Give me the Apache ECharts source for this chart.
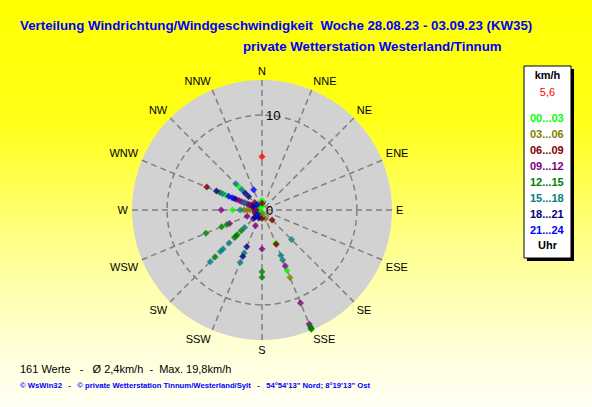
<!DOCTYPE html>
<html>
<head>
<meta charset="utf-8">
<script src="https://cdn.jsdelivr.net/npm/echarts@6/dist/echarts.min.js"></script>
<style>
  html, body { margin: 0; padding: 0; }
  #chart { width: 592px; height: 407px; }
</style>
</head>
<body>
<div id="chart"></div>
<script>
// ---------- data ----------
const directions = ['N','NNE','NE','ENE','E','ESE','SE','SSE','S','SSW','SW','WSW','W','WNW','NW','NNW'];
const speedTicks = [0, 10];
const bands = ['00...03','03...06','06...09','09...12','12...15','15...18','18...21','21...24'];
const bandColors = ['#00ff00','#808000','#800000','#800080','#008000','#008080','#000080','#0000ff'];

// [direction, km/h]
const h00_03 = [['WNW',4.2],['NW',3.4],['N',1.0],['W',3.1],['SSE',6.9],['SSE',3.8],['N',0.4],['WNW',0.8],['NNW',0.6],['W',0.3],['S',0.2]];
const h03_06 = [['W',1.9],['W',1.6],['W',1.3],['SSE',1.0],['SSE',7.7],['W',0.9],['WNW',1.1],['S',0.4],['SSW',0.6]];
const h06_09 = [['WNW',6.3],['SSE',3.9],['SE',1.5],['S',0.9],['NW',1.1],['WNW',1.4],['N',0.7],['W',0.6],['WSW',0.8]];
const h09_12 = [['W',4.3],['WSW',3.7],['SSW',1.8],['S',4.1],['SSE',6.4],['SSE',10.6],['SSE',13.0],['WSW',1.7],['WNW',2.9],['WNW',2.6],['WNW',2.3],['WNW',2.0],['WNW',1.7],['WNW',1.5],['WNW',1.2],['SW',1.3],['W',0.8]];
const h12_15 = [['WNW',4.8],['WSW',4.0],['WSW',4.6],['WSW',6.4],['SW',3.1],['SW',3.7],['SW',3.9],['SW',4.1],['SW',7.0],['S',6.5],['S',7.1],['SSE',13.3],['SSE',13.5],['SSE',13.6],['NW',0.7],['SW',0.6]];
const h15_18 = [['NW',3.9],['NW',3.0],['W',2.3],['SW',2.6],['SW',4.9],['SW',5.8],['SW',6.2],['SW',7.7],['SSW',4.9],['SSW',6.0],['SE',4.4],['SSE',5.2],['SSE',5.7],['WNW',4.5],['WNW',2.0]];
const h18_21 = [['WNW',5.2],['WNW',3.15],['NW',2.5],['NW',2.0],['SSW',4.2],['SSW',5.3],['SW',1.1],['SSW',0.9],['WNW',1.0]];
const h21_24 = [['NNW',2.3],['WNW',3.8],['WNW',3.4],['NW',0.8],['SW',0.7]];
const bandData = [h00_03, h03_06, h06_09, h09_12, h12_15, h15_18, h18_21, h21_24];

const currentDir = 'N';
const currentSpeed = 5.6;

const titleText = 'Verteilung Windrichtung/Windgeschwindigkeit  Woche 28.08.23 - 03.09.23 (KW35)';
const subTitleText = 'private Wetterstation Westerland/Tinnum';
const statsText = '161 Werte   -   Ø 2,4km/h  -  Max. 19,8km/h';
const creditText = '© WsWin32   -   © private Wetterstation Tinnum/Westerland/Sylt   -   54°54\'13" Nord; 8°19\'13" Ost';
const unitText = 'km/h';
const hourText = 'Uhr';

// ---------- chart ----------
const FONT = '"Liberation Sans", Arial, sans-serif';
const bearing = d => directions.indexOf(d) * 22.5;
const toPolar = arr => arr.map(p => [p[1], bearing(p[0])]);

const chart = echarts.init(document.getElementById('chart'), null, { renderer: 'svg' });

const series = bands.map((b, i) => ({
  name: b,
  type: 'scatter',
  coordinateSystem: 'polar',
  polarIndex: 1,
  symbol: 'diamond',
  symbolSize: 7,
  itemStyle: { color: bandColors[i] },
  data: toPolar(bandData[i]),
  z: 5
}));
series.push({
  name: 'aktuell',
  type: 'scatter',
  coordinateSystem: 'polar',
  polarIndex: 1,
  symbol: 'diamond',
  symbolSize: 7,
  itemStyle: { color: '#ff0000' },
  data: toPolar([[currentDir, currentSpeed]]),
  z: 6
});

const POLAR = { center: [262, 210], radius: 130 };
const R_MAX = 13.7;

const option = {
  backgroundColor: {
    type: 'linear', x: 0, y: 0, x2: 0, y2: 1,
    colorStops: [
      { offset: 0, color: '#ffff00' },
      { offset: 0.3, color: '#ffff18' },
      { offset: 0.6, color: '#ffff8c' },
      { offset: 0.85, color: '#ffffd6' },
      { offset: 1, color: '#fffff4' }
    ]
  },
  animation: false,
  textStyle: { fontFamily: FONT },
  title: [
    { text: titleText, left: 20, top: 19, padding: 0,
      textStyle: { color: '#0000ff', fontSize: 13.3, fontWeight: 'bold', fontFamily: FONT } },
    { text: subTitleText, left: 243, top: 40, padding: 0,
      textStyle: { color: '#0000ff', fontSize: 13.3, fontWeight: 'bold', fontFamily: FONT } },
    { text: statsText, left: 20, top: 363, padding: 0,
      textStyle: { color: '#000000', fontSize: 11, fontWeight: 'normal', fontFamily: FONT } },
    { text: creditText, left: 20, top: 381, padding: 0,
      textStyle: { color: '#0000ff', fontSize: 7.7, fontWeight: 'bold', fontFamily: FONT } }
  ],
  polar: [POLAR, POLAR],
  angleAxis: [
    {
      polarIndex: 0, type: 'value', min: 0, max: 360, interval: 22.5,
      startAngle: 90, clockwise: true,
      axisLine: { show: false }, axisTick: { show: false },
      axisLabel: { show: false }, splitLine: { show: false },
      z: 0
    },
    {
      polarIndex: 1, type: 'value', min: 0, max: 360, interval: 22.5,
      startAngle: 90, clockwise: true,
      axisLine: { show: false },
      axisTick: { show: false },
      splitLine: { show: true, lineStyle: { color: '#808080', type: [6, 4], width: 1.5 } },
      axisLabel: {
        margin: 4,
        color: '#000', fontSize: 11, fontFamily: FONT,
        formatter: v => (v >= 360 ? '' : directions[Math.round(v / 22.5) % 16])
      },
      z: 3
    }
  ],
  radiusAxis: [
    {
      polarIndex: 0, min: 0, max: R_MAX, interval: 10,
      axisLine: { show: false }, axisTick: { show: false },
      axisLabel: { show: false }, splitLine: { show: false },
      splitArea: { show: true, areaStyle: { color: ['#d2d2d2', '#d2d2d2'] } },
      z: 0
    },
    {
      polarIndex: 1, min: 0, max: R_MAX, interval: 10,
      axisLine: { show: false },
      axisTick: { show: false },
      splitLine: { show: true, lineStyle: { color: ['#808080', '#808080', 'rgba(0,0,0,0)'], type: [6, 4], width: 1.5 } },
      splitArea: { show: false },
      axisLabel: {
        margin: -4, align: 'left', showMinLabel: true,
        color: '#000', fontSize: 13, fontFamily: FONT,
        formatter: v => (speedTicks.indexOf(v) >= 0 ? String(v) : '')
      },
      z: 7
    }
  ],
  legend: {
    orient: 'vertical', left: 525, top: 110, padding: 0,
    itemWidth: 0, itemHeight: 10, itemGap: 0, icon: 'none',
    selectedMode: false,
    data: bands.map((b, i) => ({ name: b, textStyle: { color: bandColors[i] } })),
    textStyle: { fontWeight: 'bold', fontSize: 11, lineHeight: 16, fontFamily: FONT }
  },
  graphic: [
    { type: 'rect', shape: { x: 527, y: 69, width: 47, height: 192 }, style: { fill: '#000' }, z: 0 },
    { type: 'rect', shape: { x: 524, y: 66, width: 47, height: 192 }, style: { fill: '#fff', stroke: '#000', lineWidth: 1 }, z: 1 },
    { type: 'text', x: 547.5, y: 75, style: { text: unitText, fill: '#000', font: 'bold 11px ' + FONT, textAlign: 'center', textVerticalAlign: 'middle' }, z: 2 },
    { type: 'text', x: 547.5, y: 92, style: { text: currentSpeed.toFixed(1).replace('.', ','), fill: '#ff0000', font: '11px ' + FONT, textAlign: 'center', textVerticalAlign: 'middle' }, z: 2 },
    { type: 'text', x: 547.5, y: 245, style: { text: hourText, fill: '#000', font: 'bold 11px ' + FONT, textAlign: 'center', textVerticalAlign: 'middle' }, z: 2 }
  ],
  series: series
};
chart.setOption(option);
</script>
</body>
</html>
